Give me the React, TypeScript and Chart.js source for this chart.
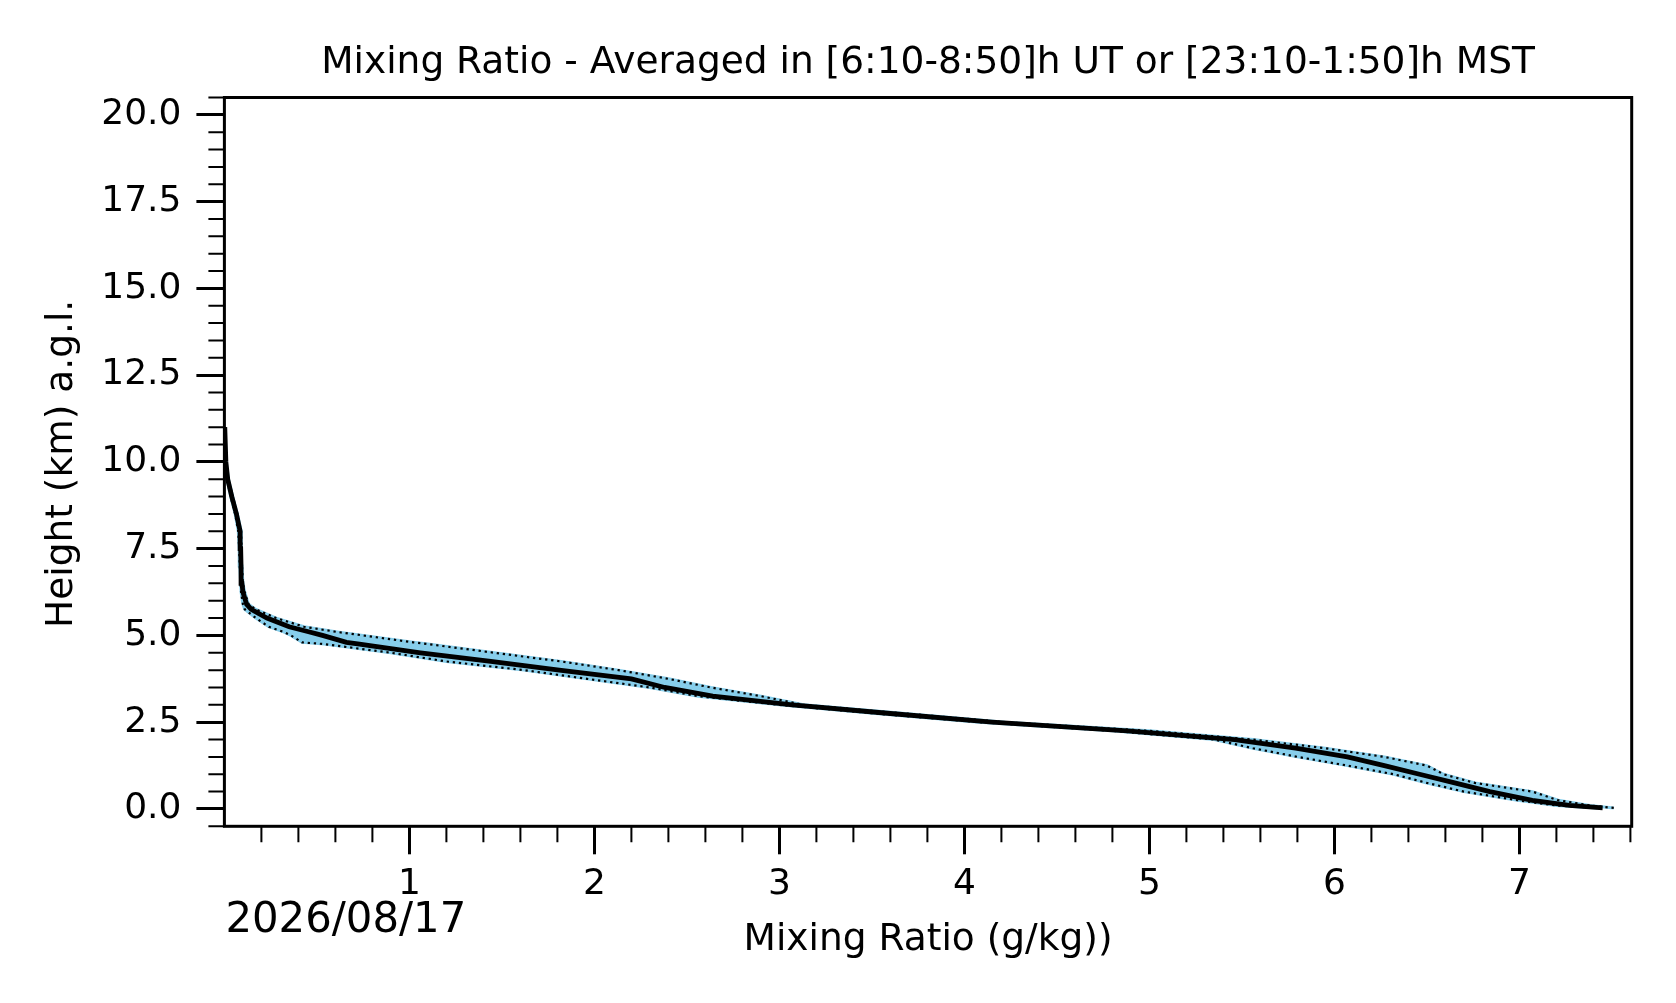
import React, { useEffect, useRef } from 'react';
import { Chart, registerables } from 'chart.js';

Chart.register(...registerables);

// --- data (heights in km, mixing ratio in g/kg) ---
const HEIGHTS = [0.03, 0.1, 0.25, 0.5, 0.75, 1.0, 1.25, 1.5, 1.75, 2.0, 2.25, 2.5, 2.75, 3.0, 3.25, 3.5, 3.75, 4.0, 4.25, 4.5, 4.75, 4.8, 5.0, 5.1, 5.25, 5.5, 5.75, 5.9, 6.25, 6.5, 7.0, 7.5, 8.0, 8.5, 9.0, 9.5, 10.0, 11.0];
const MEAN_MR = [7.45, 7.27, 7.07, 6.84, 6.65, 6.46, 6.27, 6.07, 5.79, 5.46, 4.88, 4.15, 3.6, 3.07, 2.64, 2.38, 2.2, 1.81, 1.44, 1.06, 0.73, 0.66, 0.53, 0.46, 0.35, 0.23, 0.145, 0.12, 0.1, 0.095, 0.09, 0.088, 0.085, 0.065, 0.04, 0.018, 0.008, 0.002];
const HIGH_MR = [7.51, 7.38, 7.21, 7.07, 6.76, 6.59, 6.5, 6.27, 5.95, 5.56, 5.0, 4.22, 3.68, 3.13, 2.9, 2.63, 2.4, 2.13, 1.82, 1.46, 1.1, 1.02, 0.75, 0.61, 0.43, 0.28, 0.17, 0.13, 0.11, 0.1, 0.095, 0.093, 0.09, 0.07, 0.045, 0.022, 0.01, 0.003];
const LOW_MR = [7.42, 7.2, 6.99, 6.7, 6.5, 6.32, 6.07, 5.8, 5.56, 5.35, 4.8, 4.08, 3.52, 3.0, 2.56, 2.3, 1.96, 1.62, 1.2, 0.9, 0.54, 0.42, 0.36, 0.32, 0.24, 0.17, 0.11, 0.1, 0.09, 0.088, 0.083, 0.08, 0.075, 0.058, 0.034, 0.014, 0.006, 0.001];

// --- axes ---
const X_TICKS = [1, 2, 3, 4, 5, 6, 7];
const Y_TICKS = [0, 2.5, 5, 7.5, 10, 12.5, 15, 17.5, 20];
const X_RANGE = [0, 7.607];
const Y_RANGE = [-0.5, 20.5];
const X_MINOR_STEP = 0.2;
const Y_MINOR_STEP = 0.5;

const TITLE = 'Mixing Ratio - Averaged in [6:10-8:50]h UT or [23:10-1:50]h MST';
const X_LABEL = 'Mixing Ratio (g/kg))';
const Y_LABEL = 'Height (km) a.g.l.';
const DATE_LABEL = '2026/08/17';

const SKY = '#87ceeb';
const FONT = "'DejaVu Sans', sans-serif";

const W = 1676;
const H = 1003;

const toPoints = (xs: number[]) => xs.map((x, i) => ({ x, y: HEIGHTS[i] }));

// minor ticks skip the major ones
const minorValues = (lo: number, hi: number, step: number, majors: number[]) => {
  const out: number[] = [];
  for (let v = lo; v <= hi + 1e-9; v += step) {
    const r = Math.round(v * 1000) / 1000;
    if (!majors.some(m => Math.abs(m - r) < 1e-6)) out.push(r);
  }
  return out;
};

const decorPlugin = {
  id: 'decor',
  afterDatasetsDraw(chart: any) {
    const { ctx, chartArea: a, scales } = chart;
    const xs = scales.x;
    const ys = scales.y;
    ctx.save();

    // minor ticks
    ctx.strokeStyle = '#000';
    ctx.lineWidth = 2;
    ctx.beginPath();
    minorValues(X_MINOR_STEP, X_RANGE[1], X_MINOR_STEP, X_TICKS).forEach(v => {
      const px = xs.getPixelForValue(v);
      ctx.moveTo(px, a.bottom);
      ctx.lineTo(px, a.bottom + 16);
    });
    minorValues(Y_RANGE[0], Y_RANGE[1], Y_MINOR_STEP, Y_TICKS).forEach(v => {
      const py = ys.getPixelForValue(v);
      ctx.moveTo(a.left, py);
      ctx.lineTo(a.left - 16, py);
    });
    ctx.stroke();

    // frame
    ctx.lineWidth = 3;
    ctx.strokeRect(a.left, a.top, a.right - a.left, a.bottom - a.top);

    // texts
    ctx.fillStyle = '#000';
    ctx.textBaseline = 'alphabetic';
    ctx.textAlign = 'center';
    const cx = (a.left + a.right) / 2;
    ctx.font = `37.5px ${FONT}`;
    ctx.fillText(TITLE, cx, 73);
    ctx.fillText(X_LABEL, cx, 950);

    ctx.save();
    ctx.translate(72, (a.top + a.bottom) / 2 + 2);
    ctx.rotate(-Math.PI / 2);
    ctx.fillText(Y_LABEL, 0, 0);
    ctx.restore();

    ctx.textAlign = 'left';
    ctx.font = `41.8px ${FONT}`;
    ctx.fillText(DATE_LABEL, a.left + 1, 932);

    ctx.restore();
  }
};

const MixingRatioChart: React.FC = () => {
  const canvasRef = useRef<HTMLCanvasElement>(null);
  const chartRef = useRef<Chart | null>(null);

  useEffect(() => {
    if (!canvasRef.current) return;
    if (chartRef.current) chartRef.current.destroy();

    const tickFont = { family: FONT, size: 36 };

    chartRef.current = new Chart(canvasRef.current, {
      type: 'line',
      data: {
        datasets: [
          {
            // mean profile
            data: toPoints(MEAN_MR),
            borderColor: '#000',
            borderWidth: 4.8,
            pointRadius: 0,
            fill: false,
            clip: 0,
          },
          {
            data: toPoints(LOW_MR),
            borderColor: '#000',
            borderWidth: 2.2,
            borderDash: [2.3, 3.8],
            borderCapStyle: 'butt',
            pointRadius: 0,
            fill: false,
            clip: 0,
          },
          {
            data: toPoints(HIGH_MR),
            borderColor: '#000',
            borderWidth: 2.2,
            borderDash: [2.3, 3.8],
            borderCapStyle: 'butt',
            pointRadius: 0,
            fill: false,
            clip: 0,
          },
          {
            // band edge + fill between low and high
            data: toPoints(LOW_MR),
            borderColor: SKY,
            backgroundColor: SKY,
            borderWidth: 3,
            pointRadius: 0,
            fill: '+1',
            clip: 0,
          },
          {
            data: toPoints(HIGH_MR),
            borderColor: SKY,
            borderWidth: 3,
            pointRadius: 0,
            fill: false,
            clip: 0,
          },
        ] as any,
      },
      plugins: [decorPlugin],
      options: {
        animation: false,
        responsive: true,
        maintainAspectRatio: false,
        devicePixelRatio: 1,
        indexAxis: 'y',
        layout: { padding: { left: 0, top: 97.5, right: W - 1631.7, bottom: 0 } },
        plugins: {
          legend: { display: false },
          tooltip: { enabled: false },
          title: { display: false },
          filler: { drawTime: 'beforeDatasetsDraw' },
        },
        scales: {
          x: {
            type: 'linear',
            position: 'bottom',
            min: X_RANGE[0],
            max: X_RANGE[1],
            border: { display: false },
            grid: { display: true, drawOnChartArea: false, drawTicks: true, tickLength: 28, tickWidth: 3, tickColor: '#000' },
            ticks: {
              color: '#000',
              font: tickFont,
              padding: 9,
              autoSkip: false,
              maxRotation: 0,
              callback: (v: any) => String(v),
            },
            afterBuildTicks: (s: any) => {
              s.ticks = X_TICKS.map(value => ({ value }));
            },
            afterFit: (s: any) => {
              s.height = H - 826.3;
            },
          },
          y: {
            type: 'linear',
            position: 'left',
            min: Y_RANGE[0],
            max: Y_RANGE[1],
            border: { display: false },
            grid: { display: true, drawOnChartArea: false, drawTicks: true, tickLength: 28, tickWidth: 3, tickColor: '#000' },
            ticks: {
              color: '#000',
              font: tickFont,
              padding: 15,
              autoSkip: false,
              callback: (v: any) => Number(v).toFixed(1),
            },
            afterBuildTicks: (s: any) => {
              s.ticks = Y_TICKS.map(value => ({ value }));
            },
            afterFit: (s: any) => {
              s.width = 224.4;
            },
          },
        },
      },
    });

    return () => {
      if (chartRef.current) {
        chartRef.current.destroy();
        chartRef.current = null;
      }
    };
  }, []);

  return (
    <div style={{ position: 'absolute', left: 0, top: 0, width: W, height: H, background: '#fff' }}>
      <canvas ref={canvasRef} />
    </div>
  );
};

export default function App() {
  return <MixingRatioChart />;
}
